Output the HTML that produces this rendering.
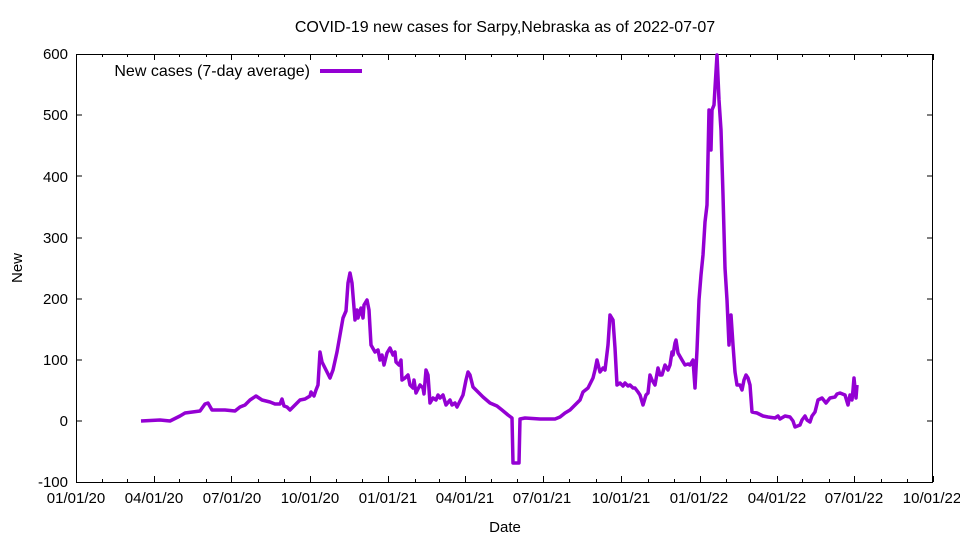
<!DOCTYPE html>
<html><head><meta charset="utf-8"><style>
body{margin:0;background:#fff}
svg text{font-family:"Liberation Sans",sans-serif;font-size:15px;fill:#000}
svg text.big{font-size:16px}
</style></head><body>
<svg id="s" width="960" height="540" xmlns="http://www.w3.org/2000/svg">
<rect width="960" height="540" fill="#fff"/>
<text class="big" x="505" y="32" text-anchor="middle">COVID-19 new cases for Sarpy,Nebraska as of 2022-07-07</text>
<g stroke="#000" stroke-width="1" fill="none">
<rect x="76.5" y="54.5" width="856" height="428"/>
<path d="M76 421h6M933 421h-6M76 360h6M933 360h-6M76 299h6M933 299h-6M76 238h6M933 238h-6M76 176h6M933 176h-6M76 115h6M933 115h-6"/>
<path id="ticks" d=""/>
</g>
<g text-anchor="end">
<text x="68" y="487">-100</text><text x="68" y="426">0</text><text x="68" y="365">100</text><text x="68" y="304">200</text><text x="68" y="243">300</text><text x="68" y="182">400</text><text x="68" y="120">500</text><text x="68" y="59">600</text>
</g>
<g text-anchor="middle">
<text x="76" y="503">01/01/20</text><text x="154" y="503">04/01/20</text><text x="232" y="503">07/01/20</text><text x="310" y="503">10/01/20</text><text x="388" y="503">01/01/21</text><text x="465" y="503">04/01/21</text><text x="542" y="503">07/01/21</text><text x="621" y="503">10/01/21</text><text x="699" y="503">01/01/22</text><text x="777" y="503">04/01/22</text><text x="854" y="503">07/01/22</text><text x="932" y="503">10/01/22</text>
<text x="505" y="532">Date</text>
</g>
<text transform="translate(22,268) rotate(-90)" text-anchor="middle">New</text>
<text class="big" x="310" y="76" text-anchor="end">New cases (7-day average)</text>
<path d="M320 71h42" stroke="#9400d3" stroke-width="4"/>
<polyline fill="none" stroke="#9400d3" stroke-width="3.5" stroke-linejoin="round" points="141,421 160,420 170,421 180,416 185,413 200,411 205,404 208,403 212,410 215,410 225,410 235,411 240,407 245,405 250,400 256,396 262,400 270,402 275,404 280,404 282,399 284,406 287,407 290,410 295,405 300,400 305,399 310,396 311,392 314,396 316,390 318,385 320,352 322,362 325,368 330,378 333,370 337,352 340,335 343,318 346,311 348,283 350,273 352,283 355,320 357,310 358,318 361,308 363,318 364,305 367,300 369,310 371,345 375,352 378,350 380,360 382,355 384,365 387,353 390,348 393,355 395,352 396,362 399,365 401,360 402,380 405,378 408,375 410,385 413,388 414,380 416,393 420,385 423,388 424,394 426,370 428,375 430,403 433,398 436,400 438,395 440,398 443,395 446,405 450,400 452,405 455,403 457,407 460,401 463,395 466,380 468,372 470,375 473,387 478,392 483,397 490,403 497,406 502,410 508,415 512,418 513,463 519,463 520,419 525,418 540,419 555,419 560,417 565,413 570,410 575,405 580,400 583,392 588,388 590,384 593,378 595,370 597,360 600,372 603,368 605,370 608,345 610,315 613,320 615,348 617,385 620,383 623,386 625,383 628,386 630,385 633,388 635,388 638,392 640,395 643,405 646,395 648,393 650,375 652,380 655,385 658,368 660,375 662,375 665,365 668,370 670,365 672,352 673,355 675,343 676,340 678,353 682,360 685,365 688,364 690,365 693,360 695,388 697,350 699,300 701,275 703,255 705,222 707,205 709,110 711,150 712,110 714,105 715,88 717,55 719,100 721,130 723,195 725,268 727,300 729,345 731,315 733,345 735,372 737,385 740,385 742,390 744,380 746,375 748,378 750,385 752,412 757,413 763,416 768,417 775,418 778,416 780,419 785,416 790,417 793,421 795,427 800,425 802,420 805,416 807,420 810,422 812,416 815,412 818,400 822,398 826,403 830,398 835,397 837,394 840,393 845,395 848,405 850,395 852,400 853,390 854,378 856,398 857,385"/>
<script>
var p="",d=new Date(Date.UTC(2020,0,1)),t0=d.getTime();
for(var y=2020;y<=2022;y++)for(var m=0;m<12;m++){var dd=Date.UTC(y,m,1);if(dd>Date.UTC(2022,9,1))break;var x=76+(dd-t0)/864e5*0.8536;var L=(m%3==0)?6:3;x=Math.round(x)+.5;p+="M"+x+" 482v-"+L+"M"+x+" 54v"+L;}
document.getElementById("ticks").setAttribute("d",p);
</script>
</svg>
</body></html>
